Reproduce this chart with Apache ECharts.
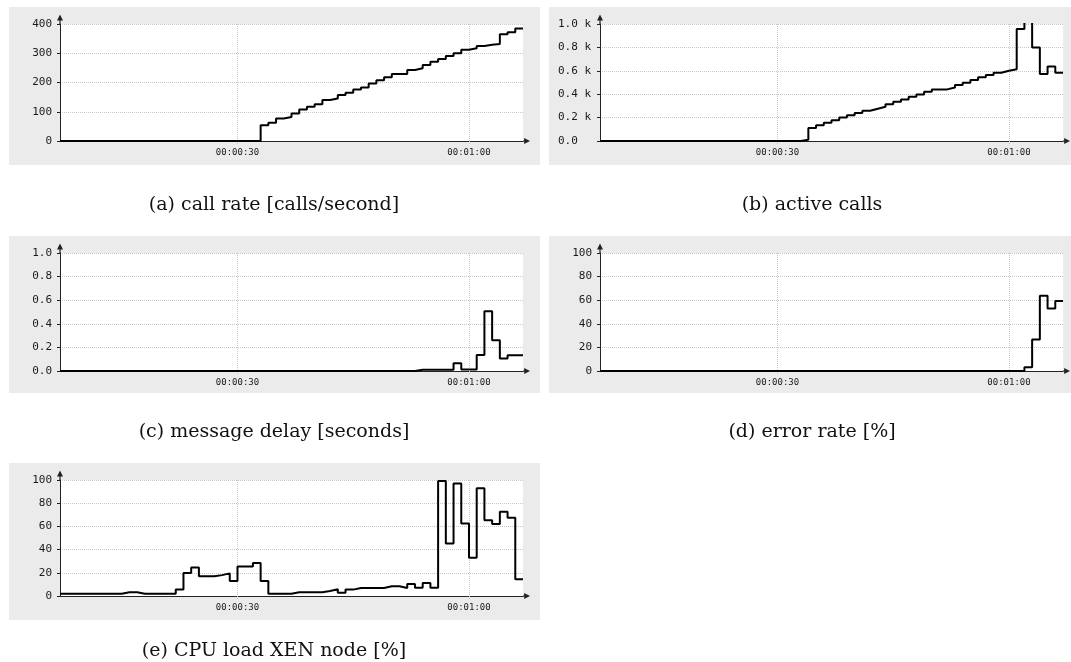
<!DOCTYPE html>
<html>
<head>
<meta charset="utf-8">
<title>Load test measurements</title>
<script src="https://cdn.jsdelivr.net/npm/echarts@6/dist/echarts.min.js"></script>
<style>
  html, body { margin: 0; padding: 0; background: #ffffff; }
  #chart { width: 1071px; height: 662px; }
</style>
</head>
<body>
<div id="chart"></div>
<script>
// Sample times in seconds since the start of the run (one sample per second)
const seconds = [7, 8, 9, 10, 11, 12, 13, 14, 15, 16, 17, 18, 19, 20, 21, 22, 23, 24, 25, 26,
  27, 28, 29, 30, 31, 32, 33, 34, 35, 36, 37, 38, 39, 40, 41, 42, 43, 44, 45, 46,
  47, 48, 49, 50, 51, 52, 53, 54, 55, 56, 57, 58, 59, 60, 61, 62, 63, 64, 65, 66, 67];

// (a) call rate [calls/second]
const callRate = [0, 0, 0, 0, 0, 0, 0, 0, 0, 0, 0, 0, 0, 0, 0, 0, 0, 0, 0, 0, 0, 0, 0, 0, 0, 0,
  54, 62, 77, 82, 94, 108, 117, 126, 140, 145, 157, 165, 176, 183, 197, 208, 218, 229, 229,
  243, 249, 260, 271, 280, 291, 300, 312, 317, 325, 329, 332, 365, 372, 385, 385];

// (b) active calls
const activeCalls = [0, 0, 0, 0, 0, 0, 0, 0, 0, 0, 0, 0, 0, 0, 0, 0, 0, 0, 0, 0, 0, 0, 0, 0, 0, 0,
  10, 112, 135, 155, 178, 200, 220, 240, 258, 275, 292, 315, 335, 355, 378, 398, 421, 441, 441,
  458, 478, 498, 521, 544, 564, 584, 601, 613, 957, 1150, 799, 573, 636, 584, 584];

// (c) message delay [seconds]
const messageDelay = [0, 0, 0, 0, 0, 0, 0, 0, 0, 0, 0, 0, 0, 0, 0, 0, 0, 0, 0, 0, 0, 0, 0, 0, 0, 0,
  0, 0, 0, 0, 0, 0, 0, 0, 0, 0, 0, 0, 0, 0, 0, 0, 0, 0, 0, 0,
  0.01, 0.01, 0.01, 0.01, 0.01, 0.065, 0.012, 0.012, 0.135, 0.506, 0.26, 0.105, 0.134, 0.134, 0.134];

// (d) error rate [%]
const errorRate = [0, 0, 0, 0, 0, 0, 0, 0, 0, 0, 0, 0, 0, 0, 0, 0, 0, 0, 0, 0, 0, 0, 0, 0, 0, 0,
  0, 0, 0, 0, 0, 0, 0, 0, 0, 0, 0, 0, 0, 0, 0, 0, 0, 0, 0, 0, 0, 0, 0, 0, 0, 0, 0, 0, 0,
  3.2, 26.7, 63.7, 52.9, 59.3, 59.3];

// (e) CPU load XEN node [%]
const cpuLoad = [2, 2, 2, 2, 2, 2, 2, 2, 3.2, 3.2, 2, 2, 2, 2, 2, 5.5,
  19.9, 24.5, 17, 17, 18, 19.5, 13, 25.5, 25.5, 28.5, 13, 2, 2, 2,
  3.2, 3.2, 3.2, 3.2, 4.3, 5.8, 2.9, 5.5, 6.9, 6.9, 6.9, 6.9, 8.4, 8.4,
  6.9, 10.4, 7.2, 11.2, 7.2, 99.1, 45.2, 97, 62.5, 33, 92.8, 65.4, 62, 72.6, 67.4, 14.4, 14.4];

// Time axis tick labels (seconds) and captions
const timeTicks = [30, 60];
const captions = [
  '(a) call rate [calls/second]',
  '(b) active calls',
  '(c) message delay [seconds]',
  '(d) error rate [%]',
  '(e) CPU load XEN node [%]'
];

// Layout of the five panels: grey frame and plot area
const panels = [
  { frame: [9, 7, 531, 158],   grid: { left: 60,  top: 24,  width: 463, height: 117 }, cap: [274, 205] },
  { frame: [549, 7, 522, 158], grid: { left: 600, top: 24,  width: 463, height: 117 }, cap: [812, 205] },
  { frame: [9, 236, 531, 157], grid: { left: 60,  top: 253, width: 463, height: 118 }, cap: [274, 432] },
  { frame: [549, 236, 522, 157], grid: { left: 600, top: 253, width: 463, height: 118 }, cap: [812, 432] },
  { frame: [9, 463, 531, 157], grid: { left: 60,  top: 480, width: 463, height: 116 }, cap: [274, 651] }
];

const pad2 = n => (n < 10 ? '0' : '') + n;
const hms = s => pad2(Math.floor(s / 3600)) + ':' + pad2(Math.floor(s / 60) % 60) + ':' + pad2(s % 60);

const yAxes = [
  { max: 400, interval: 100, fmt: v => String(v) },
  { max: 1000, interval: 200, fmt: v => (v === 0 ? '0.0' : (v / 1000).toFixed(1) + ' k'), leftAlign: true },
  { max: 1, interval: 0.2, fmt: v => v.toFixed(1) },
  { max: 100, interval: 20, fmt: v => String(v) },
  { max: 100, interval: 20, fmt: v => String(v) }
];
const seriesValues = [callRate, activeCalls, messageDelay, errorRate, cpuLoad];

const AXIS_COLOR = '#222222';
const LABEL_COLOR = '#1a1a1a';
const GRID_COLOR = '#c8c8c8';
const yArrow = 'path://M5,0L10,10L6,10L6,16L4,16L4,10L0,10Z';
const xArrow = 'path://M5,0L10,10L6,10L6,12L4,12L4,10L0,10Z';

const option = {
  animation: false,
  backgroundColor: '#ffffff',
  graphic: [
    ...panels.map(p => ({
      type: 'rect', z: -10, silent: true,
      shape: { x: p.frame[0], y: p.frame[1], width: p.frame[2], height: p.frame[3] },
      style: { fill: '#ebebeb' }
    })),
    ...panels.map((p, i) => ({
      type: 'text', silent: true,
      x: p.cap[0], y: p.cap[1],
      style: {
        text: captions[i],
        font: '19px "DejaVu Serif", serif',
        fill: '#111111',
        align: 'center',
        verticalAlign: 'middle'
      }
    }))
  ],
  grid: panels.map(p => Object.assign({
    show: true, backgroundColor: '#ffffff', borderWidth: 0, containLabel: false
  }, p.grid)),
  xAxis: panels.map((p, i) => ({
    type: 'value', gridIndex: i, min: 7, max: 67,
    axisLine: {
      show: true, onZero: false,
      symbol: ['none', xArrow], symbolSize: [6, 7], symbolOffset: [0, 3.5],
      lineStyle: { color: AXIS_COLOR, width: 1 }
    },
    axisTick: {
      show: true, customValues: timeTicks, length: 4,
      lineStyle: { color: GRID_COLOR, type: 'dotted' }
    },
    axisLabel: {
      show: true, customValues: timeTicks, formatter: v => hms(v),
      margin: 7, color: LABEL_COLOR,
      fontFamily: '"DejaVu Sans Mono", monospace', fontSize: 9
    },
    splitLine: { show: true, lineStyle: { color: GRID_COLOR, type: 'dotted', width: 1 } }
  })),
  yAxis: yAxes.map((a, i) => ({
    type: 'value', gridIndex: i, min: 0, max: a.max, interval: a.interval,
    axisLine: {
      show: true,
      symbol: ['none', yArrow], symbolSize: [6, 9.6], symbolOffset: [0, 4.8],
      lineStyle: { color: AXIS_COLOR, width: 1 }
    },
    axisTick: { show: true, length: 3, lineStyle: { color: AXIS_COLOR } },
    axisLabel: {
      formatter: a.fmt, color: LABEL_COLOR,
      fontFamily: '"DejaVu Sans Mono", monospace', fontSize: 11,
      margin: a.leftAlign ? 42 : 8,
      align: a.leftAlign ? 'left' : 'right'
    },
    splitLine: { show: true, lineStyle: { color: GRID_COLOR, type: 'dotted', width: 1 } }
  })),
  series: seriesValues.map((vals, i) => ({
    type: 'line', xAxisIndex: i, yAxisIndex: i,
    step: 'end', showSymbol: false, clip: true,
    lineStyle: { color: '#000000', width: 2 },
    data: seconds.map((s, k) => [s, vals[k]])
  }))
};

const chart = echarts.init(document.getElementById('chart'), null, { renderer: 'canvas' });
chart.setOption(option);
</script>
</body>
</html>
